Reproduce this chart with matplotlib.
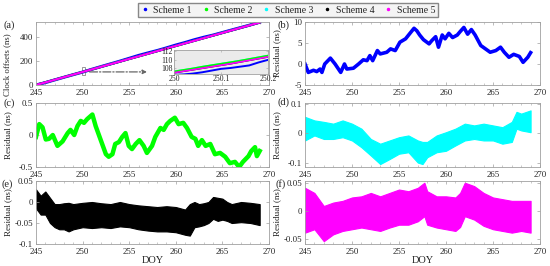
import matplotlib
matplotlib.use('Agg')
import matplotlib.pyplot as plt
from matplotlib.lines import Line2D
from matplotlib.patches import Rectangle
from matplotlib.ticker import AutoMinorLocator

plt.rcParams['font.family'] = ['Liberation Serif', 'DejaVu Serif']

scheme_names = ['Scheme 1', 'Scheme 2', 'Scheme 3', 'Scheme 4', 'Scheme 5']
scheme_colors = ['#0000ff', '#00ff00', '#00ffff', '#000000', '#ff00ff']

# (a) clock offsets, one value per day
clock_days = [245, 246, 247, 248, 249, 250, 251, 252, 253, 254, 255, 256, 257,
              258, 259, 260, 261, 262, 263, 264, 265, 266, 267, 268, 269]
clock_offset = [0, 21.5, 43.0, 64.5, 86.1, 107.5, 129.0, 150.6, 172.0, 193.5,
                215.1, 236.5, 258.0, 279.6, 301.0, 322.5, 344.1, 365.5, 387.0,
                408.6, 430.0, 451.5, 473.1, 494.5, 516.0]
clock_s1 = [0, 19.6, 42.0, 64.0, 85.5, 106.5, 130.0, 152.5, 174.6, 196.8,
            220.3, 243.9, 264.5, 284.4, 306.5, 329.8, 350.9, 373.8, 394.0,
            412.1, 433.2, 454.3, 475.0, 495.9, 518.7]

# inset of (a)
inset_days = [250.0, 250.02, 250.04, 250.06, 250.08, 250.1, 250.12, 250.14,
              250.16, 250.18, 250.2]
inset_s2 = [107.3, 107.65, 108.0, 108.4, 108.75, 109.1, 109.45, 109.8, 110.2,
            110.6, 111.0]
inset_s5 = [107.0, 107.35, 107.7, 108.05, 108.4, 108.75, 109.1, 109.5, 109.9,
            110.3, 110.7]
inset_s1 = [106.5, 106.6, 106.8, 107.1, 107.5, 107.9, 108.1, 108.4, 108.7,
            109.4, 110.0]

# (b) scheme 1 residual
b_days = [245.0, 245.35, 245.9, 246.25, 246.6, 246.8, 247.1, 247.7, 248.2,
          248.8, 249.2, 249.45, 250.15, 250.7, 251.2, 251.6, 251.9, 252.2,
          252.7, 253.0, 253.7, 254.1, 254.6, 255.1, 255.7, 256.2, 256.6,
          256.9, 257.2, 257.6, 258.2, 258.5, 258.9, 259.2, 259.6, 259.9,
          260.3, 260.7, 261.2, 261.5, 261.9, 262.3, 262.7, 263.1, 263.7,
          264.2, 264.7, 265.3, 265.8, 266.2, 266.7, 267.2, 267.8, 268.2,
          268.7, 269.0]
b_resid = [0, -2, -1.5, -1.8, -1.2, -2, 0, 1.4, 0, -2, 0, -1.2, -1, 0, 1, 0.8,
           2, 0.8, 3.2, 2.4, 2.8, 3.6, 3.2, 5.2, 6, 7.4, 8.5, 7.9, 6.9, 5.8,
           4.8, 5.6, 6.5, 4, 6.9, 6, 7.3, 6.3, 6.9, 7.7, 8.7, 7.1, 8.2, 6.9,
           4.4, 3.6, 2.8, 3.2, 4, 2.8, 1.6, 2.3, 1.8, 0.4, 1.6, 2.7]

# (c) scheme 2 residual
c_days = [245.0, 245.35, 245.7, 246.05, 246.4, 246.8, 247.3, 247.85, 248.4,
          248.7, 249.1, 249.45, 249.8, 250.15, 250.5, 251.05, 251.4, 251.9,
          252.5, 252.8, 253.2, 253.5, 253.9, 254.25, 254.6, 254.95, 255.3,
          255.7, 256.1, 256.55, 256.9, 257.45, 257.8, 258.35, 258.7, 259.05,
          259.4, 259.9, 260.3, 260.8, 261.2, 261.7, 262.1, 262.4, 262.8,
          263.2, 263.7, 264.2, 264.75, 265.3, 265.8, 266.35, 266.8, 267.2,
          267.8, 268.1, 268.5, 268.7, 269.0]
c_resid = [-0.03, 0.17, 0.12, -0.07, -0.06, 0, -0.17, -0.1, 0.03, 0.08, 0,
           0.14, 0.22, 0.19, 0.25, 0.32, 0.14, -0.06, -0.3, -0.34, -0.3, -0.14,
           -0.11, -0.03, 0.03, -0.17, -0.22, -0.14, -0.08, -0.17, -0.28, -0.17,
           -0.03, 0.11, 0.08, 0.17, 0.22, 0.27, 0.17, 0.19, 0.11, -0.03, -0.06,
           -0.17, -0.08, -0.17, -0.14, -0.3, -0.28, -0.34, -0.44, -0.42, -0.5,
           -0.42, -0.33, -0.25, -0.19, -0.33, -0.25]

# (d) scheme 3 residual band
d_days = [245, 246, 247, 248, 249, 250, 251, 252, 253, 254, 255, 256, 257,
          257.5, 258, 259, 260, 261, 262, 263, 264, 265, 266, 267, 267.5, 268,
          269]
d_upper = [0.055, 0.043, 0.038, 0.032, 0.043, 0.032, 0.015, -0.02, -0.036,
           -0.025, -0.014, -0.008, -0.025, -0.03, -0.03, -0.008, 0.003, 0.015,
           0.032, 0.026, 0.032, 0.026, 0.02, 0.038, 0.072, 0.066, 0.077]
d_lower = [-0.025, -0.008, -0.02, -0.02, -0.014, -0.025, -0.048, -0.076,
           -0.105, -0.088, -0.07, -0.065, -0.1, -0.105, -0.082, -0.065, -0.06,
           -0.042, -0.025, -0.02, -0.025, -0.025, -0.036, -0.03, 0.015, 0.009,
           0.003]

# (e) scheme 4 residual band
e_days = [245, 245.5, 246, 246.5, 247, 247.5, 248, 248.5, 249, 250, 251, 252,
          253, 254, 255, 256, 257, 258, 259, 260, 260.5, 261, 261.5, 262,
          262.5, 263, 263.5, 264, 264.5, 265, 265.5, 266, 267, 268, 269]
e_upper = [0.03, 0.015, 0.025, 0.01, -0.005, -0.005, -0.003, -0.002, -0.005,
           -0.002, 0.0, -0.003, -0.005, 0.0, -0.005, -0.008, -0.01, -0.012,
           -0.01, -0.012, -0.015, -0.018, -0.005, 0.0, -0.005, -0.003, 0.0,
           0.012, 0.01, 0.008, 0.0, -0.005, 0.0, -0.002, -0.005]
e_lower = [-0.015, -0.03, -0.03, -0.05, -0.06, -0.065, -0.065, -0.07, -0.065,
           -0.06, -0.062, -0.06, -0.062, -0.058, -0.06, -0.065, -0.068, -0.07,
           -0.07, -0.072, -0.075, -0.078, -0.08, -0.06, -0.058, -0.055, -0.05,
           -0.04, -0.045, -0.042, -0.045, -0.05, -0.048, -0.05, -0.055]

# (f) scheme 5 residual band
f_days = [245, 246, 247, 248, 249, 250, 251, 252, 253, 254, 255, 256, 257,
          257.7, 258, 259, 260, 261, 261.5, 262, 263, 264, 265, 266, 267, 268,
          269]
f_upper = [0.041, 0.032, 0.009, 0.015, 0.018, 0.024, 0.026, 0.032, 0.026,
           0.032, 0.038, 0.035, 0.041, 0.05, 0.035, 0.026, 0.026, 0.024, 0.032,
           0.05, 0.044, 0.032, 0.024, 0.021, 0.018, 0.018, 0.018]
f_lower = [-0.038, -0.032, -0.053, -0.041, -0.035, -0.032, -0.029, -0.032,
           -0.035, -0.029, -0.024, -0.024, -0.018, -0.009, -0.024, -0.029,
           -0.032, -0.035, -0.028, -0.009, -0.015, -0.026, -0.032, -0.035,
           -0.038, -0.035, -0.038]

x_ticks = [245, 250, 255, 260, 265, 270]

SPINE = '#a0a0a0'
TXT = '#222222'


def style_axes(ax, yticks, ylabels, ylim):
    ax.set_xlim(245, 270)
    ax.set_ylim(*ylim)
    ax.set_xticks(x_ticks)
    ax.set_xticklabels([str(t) for t in x_ticks])
    ax.set_yticks(yticks)
    ax.set_yticklabels(ylabels)
    ax.xaxis.set_minor_locator(AutoMinorLocator(5))
    ax.tick_params(which='both', direction='in', top=True, right=True,
                   color=SPINE, labelcolor=TXT, labelsize=6.3)
    ax.tick_params(axis='x', pad=2.6)
    ax.tick_params(axis='y', pad=2.0)
    ax.tick_params(which='major', length=2.5, width=0.5)
    ax.tick_params(which='minor', length=1.3, width=0.4)
    for s in ax.spines.values():
        s.set_color(SPINE)
        s.set_linewidth(0.6)


fig = plt.figure(figsize=(5.5, 2.66), dpi=100)
W, H = 550.0, 266.0


def add_ax(left, top, right, bottom):
    return fig.add_axes([left / W, 1 - bottom / H, (right - left) / W, (bottom - top) / H])


ax_a = add_ax(36, 22, 269, 85)
ax_b = add_ax(305, 22, 540, 85)
ax_c = add_ax(36, 103, 269, 167)
ax_d = add_ax(305, 103, 540, 167)
ax_e = add_ax(36, 181, 269, 244)
ax_f = add_ax(305, 181, 540, 244)

# (a)
ax_a.plot(clock_days, clock_s1, color=scheme_colors[0], lw=2.2)
for c in scheme_colors[1:4]:
    ax_a.plot(clock_days, clock_offset, color=c, lw=1.6)
ax_a.plot(clock_days, clock_offset, color=scheme_colors[4], lw=1.6)
style_axes(ax_a, [0, 200, 400], ['0', '200', '400'], (0, 520))
ax_a.add_patch(Rectangle((249.95, 80), 0.35, 70, fill=False, ec='#888888', lw=0.6))
ax_a.annotate('', xy=(257.2, 108), xytext=(250.45, 108),
              arrowprops=dict(arrowstyle='-|>', color='#666666', lw=0.9,
                              linestyle='-.', mutation_scale=6))
ax_a.set_ylabel('Clock offsets (ns)', fontsize=6.3, color=TXT)
ax_a.yaxis.set_label_coords(-0.105, 0.33)

ins = add_ax(174, 50, 268, 74)
ins.set_facecolor('#ebebeb')
ins.plot(inset_days, inset_s1, color=scheme_colors[0], lw=1.4)
ins.plot(inset_days, inset_s2, color=scheme_colors[2], lw=1.2)
ins.plot(inset_days, inset_s5, color=scheme_colors[3], lw=1.2)
ins.plot(inset_days, inset_s2, color=scheme_colors[1], lw=1.2)
ins.plot(inset_days, inset_s5, color=scheme_colors[4], lw=1.2)
ins.set_xlim(250, 250.2)
ins.set_ylim(106.7, 112.3)
ins.set_xticks([250, 250.1, 250.2])
ins.set_xticklabels(['250', '250.1', '250.2'])
ins.set_yticks([108, 110, 112])
ins.set_yticklabels(['108', '110', '112'])
ins.tick_params(direction='in', top=True, right=True, color=SPINE,
                labelcolor=TXT, labelsize=5.6, length=1.5, width=0.4, pad=1)
for s in ins.spines.values():
    s.set_color(SPINE)
    s.set_linewidth(0.6)

# (b), (c)
ax_b.plot(b_days, b_resid, color=scheme_colors[0], lw=2.6)
style_axes(ax_b, [-5, 0, 5, 10], ['-5', '0', '5', '10'], (-5, 10))
ax_c.plot(c_days, c_resid, color=scheme_colors[1], lw=3.2)
style_axes(ax_c, [-0.5, 0, 0.5], ['-0.5', '0', '0.5'], (-0.5, 0.5))

# (d), (e), (f) dense point clouds
ax_d.fill_between(d_days, d_lower, d_upper, color=scheme_colors[2], lw=0.8,
                  ec=scheme_colors[2])
style_axes(ax_d, [-0.1, 0, 0.1], ['-0.1', '0', '0.1'], (-0.115, 0.102))
ax_e.fill_between(e_days, e_lower, e_upper, color=scheme_colors[3], lw=0.8,
                  ec=scheme_colors[3])
style_axes(ax_e, [-0.1, -0.05, 0, 0.05], ['-0.1', '-0.05', '0', '0.05'],
           (-0.1, 0.05))
ax_f.fill_between(f_days, f_lower, f_upper, color=scheme_colors[4], lw=0.8,
                  ec=scheme_colors[4])
style_axes(ax_f, [-0.05, 0, 0.05], ['-0.05', '0', '0.05'], (-0.058, 0.053))

for ax in [ax_b, ax_c, ax_d, ax_e, ax_f]:
    ax.set_ylabel('Residual (ns)', fontsize=6.5, color=TXT)
    ax.yaxis.set_label_coords(-0.103, 0.5)

for ax in [ax_e, ax_f]:
    ax.set_xlabel('DOY', fontsize=7.5, color=TXT, labelpad=0)

# panel letters
for lab, x, y in [('(a)', 4, 25), ('(b)', 277, 25), ('(c)', 4, 103),
                  ('(d)', 277, 102), ('(e)', 2, 184), ('(f)', 276, 184)]:
    fig.text(x / W, 1 - y / H, lab, fontsize=7.5, color=TXT, va='center')

handles = [Line2D([], [], ls='none', marker='.', ms=3, color=c) for c in scheme_colors]
fig.legend(handles, scheme_names, loc='center', bbox_to_anchor=(288 / W, 1 - 10 / H),
           ncol=5, fontsize=7, frameon=True, fancybox=False, edgecolor='#888888',
           facecolor='#f4f4f4', framealpha=1, handlelength=0.8, handletextpad=0.5,
           columnspacing=1.0, borderpad=0.25, labelcolor=TXT)

fig.savefig('out.png', dpi=100)
